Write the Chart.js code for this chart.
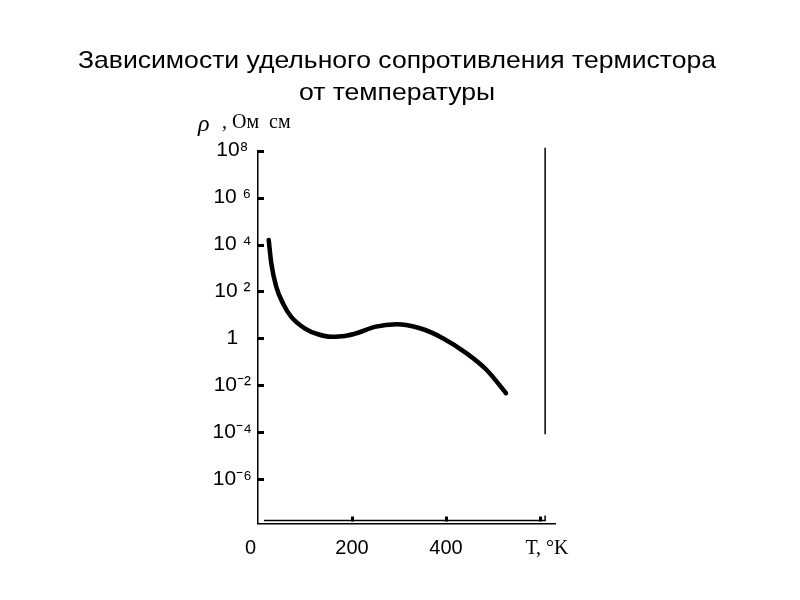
<!DOCTYPE html>
<html>
<head>
<meta charset="utf-8">
<script src="https://cdn.jsdelivr.net/npm/chart.js@4"></script>
<style>
  html, body { margin: 0; padding: 0; background: #fff; }
  #wrap { width: 800px; height: 600px; }
</style>
</head>
<body>
<div id="wrap"><canvas id="thermistor"></canvas></div>
<script>
// температура, K
const temps = [22.8, 28.3, 38.9, 53.2, 70.8, 99.3, 127.7, 156, 184.5, 212.8, 248.3, 295.1, 344.7, 394.3, 444, 486.6, 527.7];
// удельное сопротивление, Ом·см
const rho = [1.55e4, 1.58e3, 158, 31, 8.3, 2.7, 1.5, 1.17, 1.26, 1.74, 3.1, 4.0, 2.7, 1.0, 0.23, 0.045, 0.0046];

const yTicks = [1e8, 1e6, 1e4, 1e2, 1, 1e-2, 1e-4, 1e-6];
const yTickLabels = ["10\u2078", "10 \u2076", "10 \u2074", "10 \u00B2", "1", "10\u207B\u00B2", "10\u207B\u2074", "10\u207B\u2076"];
const xTicks = [0, 200, 400, 600];
const xTickLabels = ["0\u2007\u2009", "200", "400", "\u2002\u2009T, \u00B0K"];

const title = ["Зависимости удельного сопротивления термистора", "от температуры"];

// заголовок, подпись оси Y, рамка и метки осей рисуем поверх
const decorations = {
  id: "decorations",
  afterDraw(chart) {
    const { ctx, chartArea, scales } = chart;
    const x = scales.x, y = scales.y;
    ctx.save();
    ctx.strokeStyle = "#000";
    ctx.fillStyle = "#000";

    // заголовок
    ctx.font = '24px "Liberation Sans"';
    ctx.textAlign = "center";
    ctx.textBaseline = "middle";
    const stretch = 638 / ctx.measureText(title[0]).width;
    title.forEach((line, i) => {
      ctx.save();
      ctx.translate(397, 61 + i * 32);
      ctx.scale(stretch, 1);
      ctx.fillText(line, 0, 0);
      ctx.restore();
    });

    // метки на оси Y (внутрь)
    ctx.lineWidth = 3;
    yTicks.forEach((v) => {
      const py = Math.round(y.getPixelForValue(v)) + 0.5;
      ctx.beginPath();
      ctx.moveTo(chartArea.left, py);
      ctx.lineTo(chartArea.left + 6, py);
      ctx.stroke();
    });

    // метки на оси X
    xTicks.slice(1).forEach((v) => {
      const px = Math.round(x.getPixelForValue(v)) + 0.5;
      ctx.beginPath();
      ctx.moveTo(px, chartArea.bottom - 7);
      ctx.lineTo(px, chartArea.bottom - 2);
      ctx.stroke();
    });

    // вторая линия оси X и правая граница
    ctx.lineWidth = 1.5;
    const xr = x.getPixelForValue(611);
    ctx.beginPath();
    ctx.moveTo(chartArea.left + 6, chartArea.bottom - 3);
    ctx.lineTo(xr, chartArea.bottom - 3);
    ctx.lineTo(xr, chartArea.bottom - 8);
    ctx.stroke();

    ctx.beginPath();
    ctx.moveTo(xr, y.getPixelForValue(1e8) - 3);
    ctx.lineTo(xr, y.getPixelForValue(1e-4) + 2);
    ctx.stroke();

    // подпись оси Y
    ctx.textAlign = "left";
    ctx.font = 'italic 24px "Liberation Serif"';
    ctx.fillText("\u03C1", 198, 125);
    ctx.font = '20px "Liberation Serif"';
    ctx.fillText(", Ом  см", 222, 123);
    ctx.restore();
  },
};

new Chart(document.getElementById("thermistor"), {
  type: "line",
  data: {
    datasets: [
      {
        data: temps.map((t, i) => ({ x: t, y: rho[i] })),
        borderColor: "#000",
        borderWidth: 4.5,
        pointRadius: 0,
        cubicInterpolationMode: "monotone",
        borderCapStyle: "round",
        fill: false,
      },
    ],
  },
  options: {
    responsive: true,
    maintainAspectRatio: false,
    animation: false,
    layout: { padding: { left: 198, right: 245, top: 150.7, bottom: 26.5 } },
    scales: {
      x: {
        type: "linear",
        min: 0,
        max: 632,
        afterBuildTicks: (scale) => {
          scale.ticks = xTicks.map((v) => ({ value: v }));
        },
        afterFit: (scale) => {
          scale.height = 50;
        },
        ticks: {
          autoSkip: false,
          maxRotation: 0,
          padding: 13,
          color: "#000",
          callback: (value, index) => xTickLabels[index],
          font: (ctx) =>
            ctx.index === 3
              ? { family: "Liberation Serif", size: 20 }
              : { family: "Liberation Sans", size: 20 },
        },
        grid: { display: true, drawOnChartArea: false, drawTicks: false },
        border: { display: true, color: "#000", width: 1.5 },
      },
      y: {
        type: "logarithmic",
        min: 1.29e-8,
        max: 1e8,
        afterBuildTicks: (scale) => {
          scale.ticks = yTicks.map((v) => ({ value: v }));
        },
        afterFit: (scale) => {
          scale.width = 60;
        },
        ticks: {
          autoSkip: false,
          padding: 6,
          crossAlign: "center",
          color: "#000",
          callback: (value, index) => yTickLabels[index],
          font: { family: "Liberation Sans", size: 21 },
        },
        grid: { display: true, drawOnChartArea: false, drawTicks: false },
        border: { display: true, color: "#000", width: 1.5 },
      },
    },
    plugins: {
      legend: { display: false },
      tooltip: { enabled: false },
      title: { display: false },
    },
  },
  plugins: [decorations],
});
</script>
</body>
</html>
